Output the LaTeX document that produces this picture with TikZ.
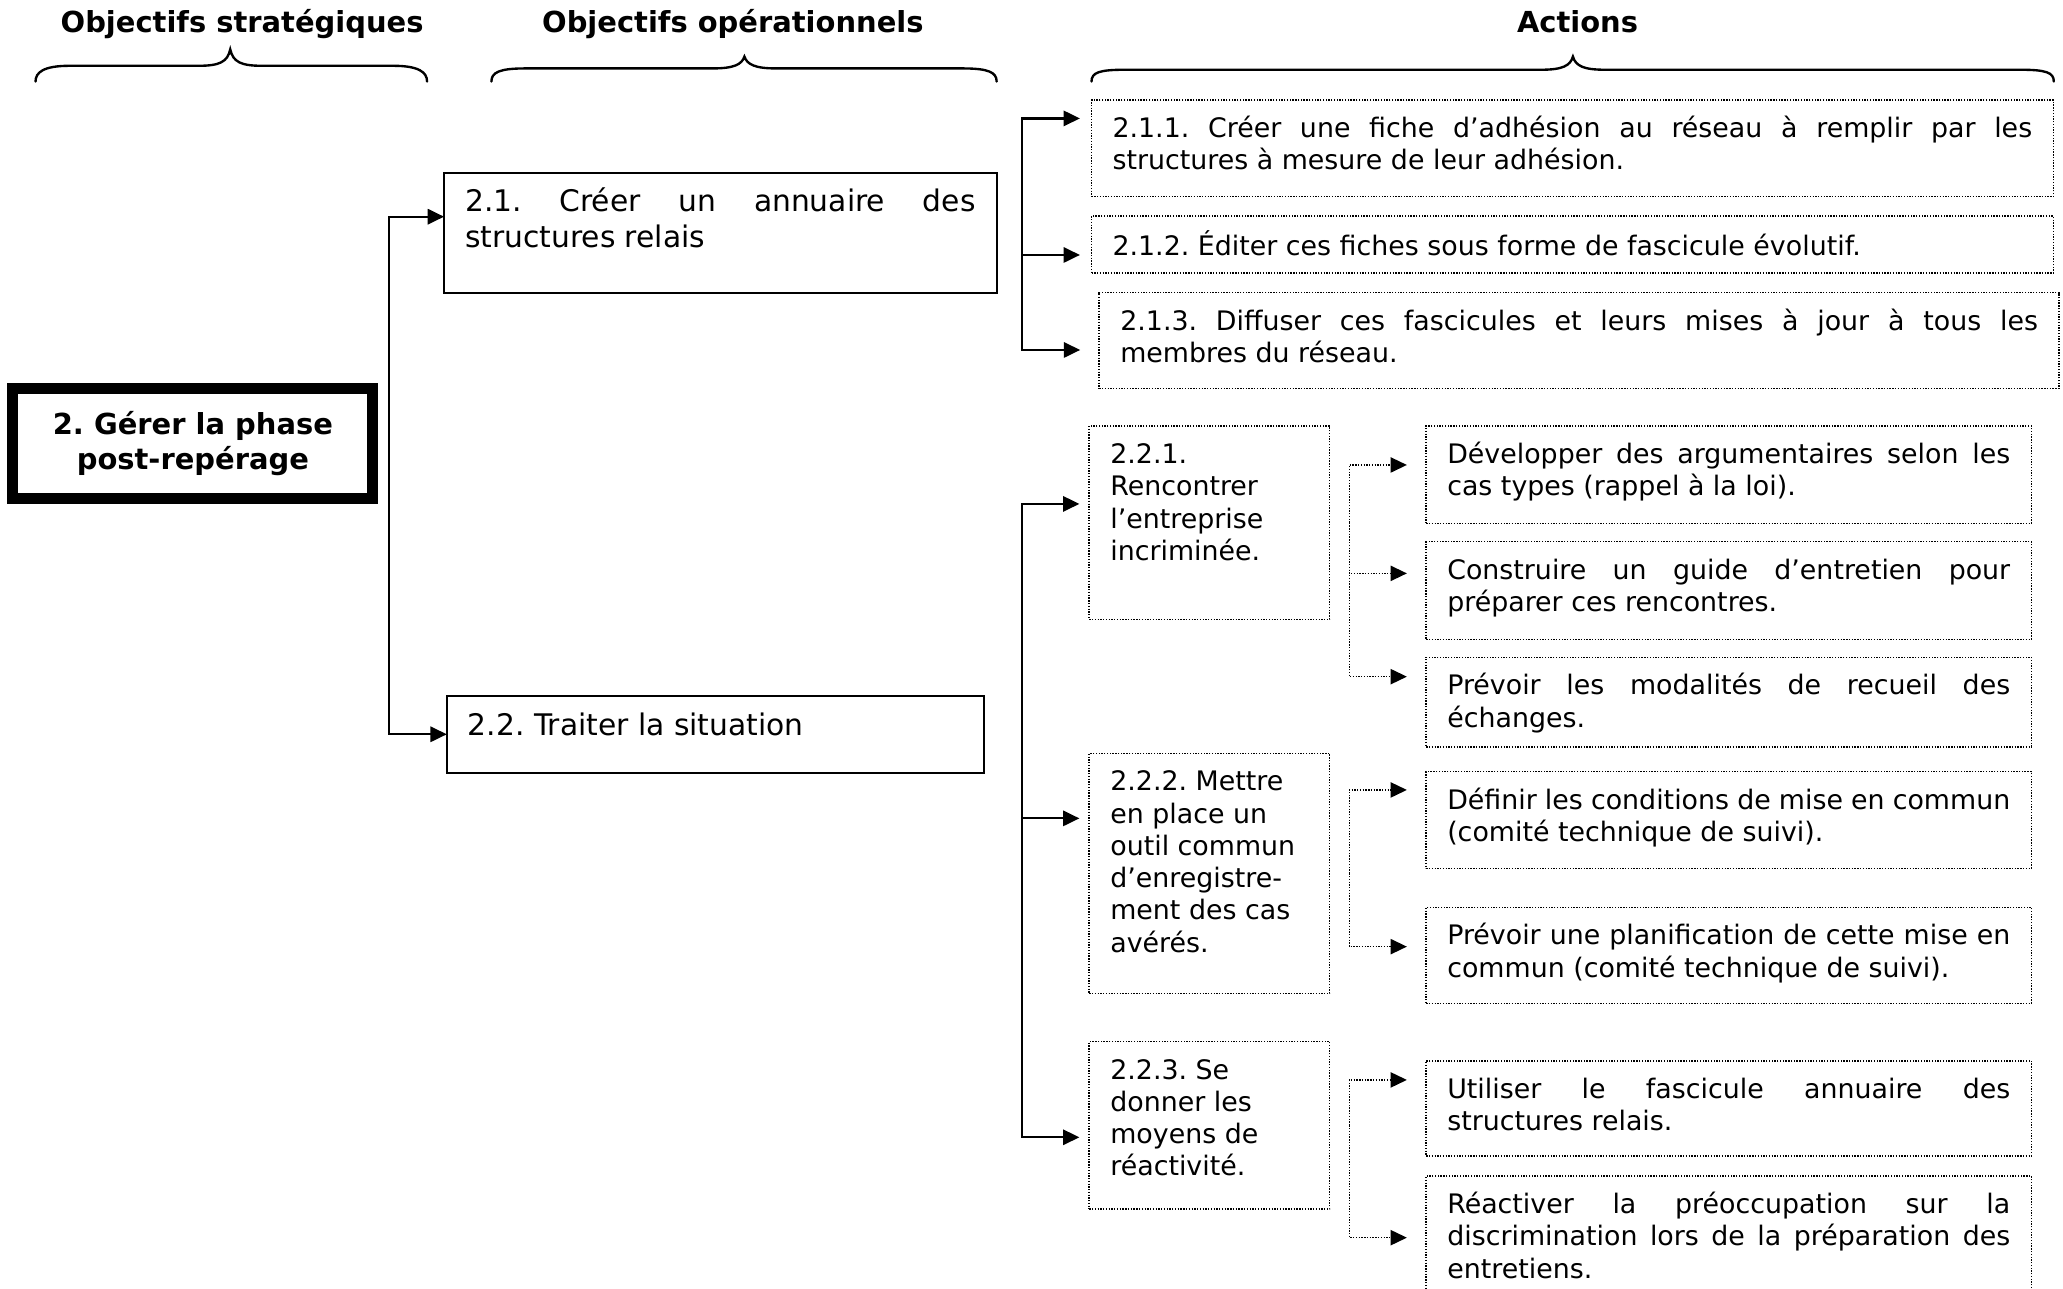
\documentclass[tikz,border=0pt]{standalone}
\usepackage{fontspec}
\setmainfont{DejaVu Sans}
\usetikzlibrary{arrows.meta,calc}
\frenchspacing

% one drawing unit
\newdimen\upx \upx=0.5pt

% fixed-size text cells: height, full box width, text
\newcommand\actcell[3]{\parbox[t][#1\upx][t]{\dimexpr#2\upx-32\upx\relax}{%
  \fontsize{10.2}{12.25}\selectfont\hyphenpenalty=10000\vspace*{5.7pt}\strut#3}}
\newcommand\objcell[3]{\parbox[t][#1\upx][t]{\dimexpr#2\upx-32\upx\relax}{%
  \fontsize{11.3}{13.5}\selectfont\hyphenpenalty=10000\vspace*{5.4pt}\strut#3}}

% horizontal curly brace: left x, right x, tip x, tip y, flat y
\newcommand\curlybrace[5]{%
  \draw[bracestyle] (#1,62) .. controls (#1,55) and (#1+6,#5) .. (#1+26,#5)
    -- (#3-24,#5) .. controls (#3-8,#5) and (#3-2,#5-3) .. (#3,#4)
    .. controls (#3+2,#5-3) and (#3+8,#5) .. (#3+24,#5)
    -- (#2-26,#5) .. controls (#2-6,#5) and (#2,55) .. (#2,62);}

\begin{document}
\begin{tikzpicture}[x=0.5pt,y=-0.5pt,
  head/.style={font=\fontsize{11}{13}\selectfont\bfseries, inner sep=0pt, anchor=base},
  goalbox/.style={draw, line width=4.1pt, align=center, inner sep=0pt,
    minimum width=136.8pt, minimum height=41.75pt,
    font=\fontsize{11}{13.5}\selectfont\bfseries},
  solidbox/.style={draw, line width=0.7pt, inner xsep=8pt, inner ysep=0pt,
    outer sep=0pt, anchor=north west},
  dotbox/.style={solidbox, line width=0.6pt, dash pattern=on 0.5pt off 0.55pt},
  tip/.style={-{Triangle[length=6.2pt,width=5.8pt]}},
  link/.style={tip, line width=0.85pt},
  dotlink/.style={tip, line width=0.6pt, dash pattern=on 0.5pt off 0.55pt},
  bracestyle/.style={line width=0.9pt, line cap=round}]

\useasboundingbox (0,0) rectangle (1568,979);

% column headings and braces
\node[head] (hstrat) at (184,25) {Objectifs stratégiques};
\node[head] (hop) at (557,25) {Objectifs opérationnels};
\node[head] (hact) at (1199,25) {Actions};
\curlybrace{27}{324.6}{175}{37.5}{50}
\curlybrace{373.5}{757.5}{565.8}{43}{52}
\curlybrace{829.6}{1561}{1195.5}{43}{53}

% strategic objective
\node[goalbox] (goal) at (146.6,337.2) {2. Gérer la phase\\post-repérage};

% operational objectives
\node[solidbox] (o21) at (337.5,131.2) {\objcell{91.7}{420}{2.1. Créer un annuaire des\linebreak structures relais}};
\node[solidbox] (o22) at (339.6,529) {\objcell{58.8}{408.4}{2.2. Traiter la situation}};

% actions of 2.1
\node[dotbox] (a211) at (829.6,76) {\actcell{73.5}{731}{2.1.1. Créer une fiche d’adhésion au réseau à remplir par les\linebreak structures à mesure de leur adhésion.}};
\node[dotbox] (a212) at (829.6,164.2) {\actcell{43.5}{731}{2.1.2. Éditer ces fiches sous forme de fascicule évolutif.}};
\node[dotbox] (a213) at (835.5,222.4) {\actcell{72.8}{729.5}{2.1.3. Diffuser ces fascicules et leurs mises à jour à tous les\linebreak membres du réseau.}};

% sub-objectives of 2.2
\node[dotbox] (s221) at (827.9,323.8) {\actcell{146.9}{182.7}{2.2.1.\\Rencontrer\\l’entreprise\\incriminée.}};
\node[dotbox] (s222) at (827.9,572.6) {\actcell{182.4}{182.7}{2.2.2. Mettre\\en place un\\outil commun\\d’enregistre-\\ment des cas\\avérés.}};
\node[dotbox] (s223) at (827.9,791.7) {\actcell{127.3}{182.7}{2.2.3. Se\\donner les\\moyens de\\réactivité.}};

% actions of 2.2.1
\node[dotbox] (x1) at (1084,323.8) {\actcell{74}{459.9}{Développer des argumentaires selon les\linebreak cas types (rappel à la loi).}};
\node[dotbox] (x2) at (1084,411.7) {\actcell{74.2}{459.9}{Construire un guide d’entretien pour\linebreak préparer ces rencontres.}};
\node[dotbox] (x3) at (1084,499.6) {\actcell{68}{459.9}{Prévoir les modalités de recueil des\linebreak échanges.}};

% actions of 2.2.2
\node[dotbox] (y1) at (1084,586.5) {\actcell{73.5}{459.9}{Définir les conditions de mise en commun\linebreak (comité technique de suivi).}};
\node[dotbox] (y2) at (1084,689.6) {\actcell{73}{459.9}{Prévoir une planification de cette mise en\linebreak commun (comité technique de suivi).}};

% actions of 2.2.3
\node[dotbox] (z1) at (1084,806.2) {\actcell{72.4}{459.9}{Utiliser le fascicule annuaire des\linebreak structures relais.}};
\node[dotbox] (z2) at (1084,893.8) {\actcell{100}{459.9}{Réactiver la préoccupation sur la\linebreak discrimination lors de la préparation des\linebreak entretiens.}};

% branching points
\coordinate (j0) at ($(goal.east)+(8.2,0)$);
\coordinate (j21) at ($(o21.east)+(19.5,0)$);
\coordinate (j22) at ($(o22.east)+(29,0)$);
\coordinate (k1) at ($(s221.east)+(15,0)$);
\coordinate (k2) at ($(s222.east)+(15,0)$);
\coordinate (k3) at ($(s223.east)+(15,0)$);

% solid connectors
\draw[link] (j0) |- ([shift={(0,33.5)}]o21.north west);
\draw[link] (j0) |- ([shift={(0,29.1)}]o22.north west);
\draw[link] (j21) |- ([shift={(-8.8,14)}]a211.north west);
\draw[link] (j21) |- ([shift={(-8.8,29.6)}]a212.north west);
\draw[link] (j21) |- ([shift={(-14.5,43.6)}]a213.north west);
\draw[link] (j22) |- ([shift={(-7.5,59.2)}]s221.north west);
\draw[link] (j22) |- ([shift={(-7.5,49.4)}]s222.north west);
\draw[link] (j22) |- ([shift={(-7.5,72.7)}]s223.north west);

% dotted connectors
\draw[dotlink] (k1) |- ([shift={(-14.7,29.6)}]x1.north west);
\draw[dotlink] (k1) |- ([shift={(-14.7,24.1)}]x2.north west);
\draw[dotlink] (k1) |- ([shift={(-14.7,14.7)}]x3.north west);
\draw[dotlink] (k2) |- ([shift={(-14.7,13.9)}]y1.north west);
\draw[dotlink] (k2) |- ([shift={(-14.7,29.9)}]y2.north west);
\draw[dotlink] (k3) |- ([shift={(-14.7,14.6)}]z1.north west);
\draw[dotlink] (k3) |- ([shift={(-14.7,46.9)}]z2.north west);

\end{tikzpicture}
\end{document}
